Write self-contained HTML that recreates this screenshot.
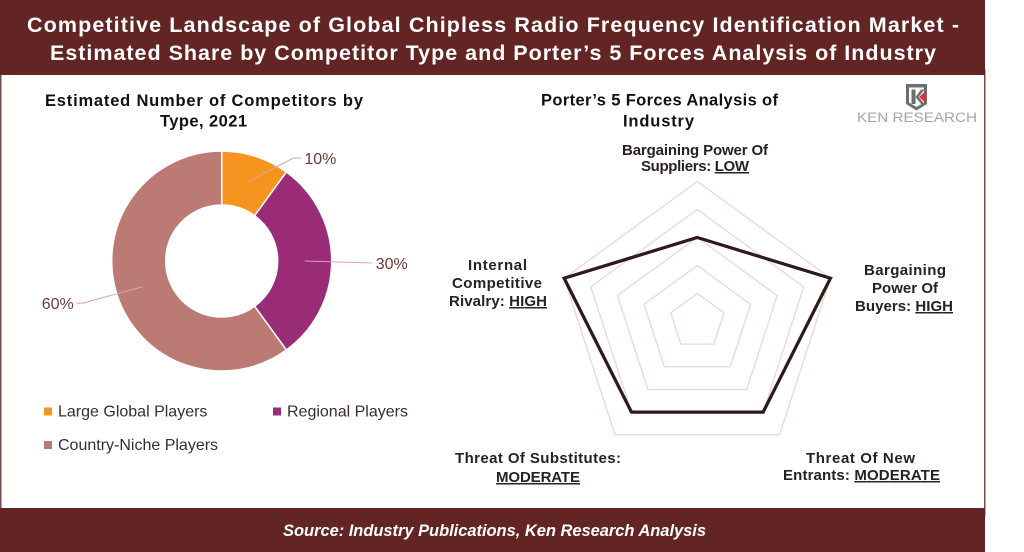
<!DOCTYPE html>
<html lang="en">
<head>
<meta charset="utf-8">
<title>Competitive Landscape of Global Chipless RFID Market</title>
<style>
html,body{margin:0;padding:0;background:#fff;width:1024px;height:552px;overflow:hidden}
svg{display:block;font-family:"Liberation Sans",Arial,sans-serif}
.h{font-weight:700;font-size:21.5px;fill:#fff}
.t{font-weight:700;font-size:16.5px;fill:#111}
.a{font-weight:700;font-size:15px;fill:#2b2020}
.l{font-size:16px;fill:#3a2c2c}
.p{font-size:16px;fill:#6b3a36}
</style>
</head>
<body>
<svg id="page" width="1024" height="552" viewBox="0 0 1024 552">
  <rect x="0.75" y="70" width="984" height="445" fill="#fff" stroke="#7a4a49" stroke-width="1.5"/>
  <rect x="0" y="0" width="985" height="75" fill="#622524"/>
  <text class="h" x="27" y="32" textLength="932">Competitive Landscape of Global Chipless Radio Frequency Identification Market -</text>
  <text class="h" x="50" y="60" textLength="886">Estimated Share by Competitor Type and Porter’s 5 Forces Analysis of Industry</text>

  <g>
    <text class="t" x="45" y="106" textLength="318">Estimated Number of Competitors by</text>
    <text class="t" x="160" y="126.5" textLength="87">Type, 2021</text>
  </g>
  <g>
    <text class="t" x="541" y="105.5" textLength="237">Porter’s 5 Forces Analysis of</text>
    <text class="t" x="623" y="126.5" textLength="71">Industry</text>
  </g>

  <g>
    <path d="M906 84H927V104L916.5 110.5L906 104Z" fill="#6d6e70"/>
    <path d="M909 87.5H924V102.5L916.5 107L909 102.5Z" fill="#fff"/>
    <path d="M911.5 89.5H915.5V104H911.5Z" fill="#6d6e70"/>
    <path d="M915.5 97L921 89.5H924.5L918.5 97L924.5 104H921Z" fill="#6d6e70"/>
    <path d="M919 97L926 90.5V103.5Z" fill="#d9333f"/>
    <text x="857" y="122" font-size="13.5" fill="#a5a5a7" textLength="120" lengthAdjust="spacingAndGlyphs">KEN RESEARCH</text>
  </g>

  <g id="donut"></g>
  <g id="legend"></g>
  <g id="radar"></g>

  <g>
    <text class="a" x="622" y="155" textLength="146">Bargaining Power Of</text>
    <text class="a" x="641" y="171" textLength="108">Suppliers: <tspan text-decoration="underline">LOW</tspan></text>
  </g>
  <g>
    <text class="a" x="864" y="275" textLength="82">Bargaining</text>
    <text class="a" x="872" y="293" textLength="66">Power Of</text>
    <text class="a" x="855" y="311" textLength="98">Buyers: <tspan text-decoration="underline">HIGH</tspan></text>
  </g>
  <g>
    <text class="a" x="806" y="463" textLength="109">Threat Of New</text>
    <text class="a" x="783" y="480" textLength="157">Entrants: <tspan text-decoration="underline">MODERATE</tspan></text>
  </g>
  <g>
    <text class="a" x="455" y="463" textLength="166">Threat Of Substitutes:</text>
    <text class="a" x="496" y="482" textLength="84" text-decoration="underline">MODERATE</text>
  </g>
  <g>
    <text class="a" x="468" y="270" textLength="59">Internal</text>
    <text class="a" x="452" y="288" textLength="90">Competitive</text>
    <text class="a" x="449" y="306" textLength="98">Rivalry: <tspan text-decoration="underline">HIGH</tspan></text>
  </g>

  <rect x="0" y="508" width="985" height="44" fill="#622524"/>
  <text x="283" y="536" font-size="16.5" font-weight="700" font-style="italic" fill="#fff" textLength="423">Source: Industry Publications, Ken Research Analysis</text>
</svg>
<script>
var donutCategories = ['Large Global Players', 'Regional Players', 'Country-Niche Players'];
var donutValues = [10, 30, 60];
var radarAxes = ['Bargaining Power Of Suppliers', 'Bargaining Power Of Buyers', 'Threat Of New Entrants', 'Threat Of Substitutes', 'Internal Competitive Rivalry'];
var radarValues = [3, 5, 4, 4, 5];
var radarTicks = [1, 2, 3, 4, 5];

var NS = 'http://www.w3.org/2000/svg';
function mk(parent, tag, attrs) {
  var el = document.createElementNS(NS, tag);
  for (var k in attrs) el.setAttribute(k, attrs[k]);
  parent.appendChild(el);
  return el;
}

/* donut */
var sliceColors = ['#F7941F', '#9A2B76', '#BC7A74'];
var cx = 221.7, cy = 261, rOuter = 110, rInner = 56, rAnchor = 83;
var leaderElbows = [[46, -24], [67, 2], [-60, 16.5]];
var leaderTails = [8, 0, -6];
var labelGaps = [3, 4, -3];
var total = donutValues.reduce(function (a, b) { return a + b; }, 0);
function polar(r, deg) {
  var a = deg * Math.PI / 180;
  return [cx + r * Math.sin(a), cy - r * Math.cos(a)];
}
var donutG = document.getElementById('donut');
var start = 0;
donutValues.forEach(function (v, i) {
  var sweep = v / total * 360, end = start + sweep, large = sweep > 180 ? 1 : 0;
  var a = polar(rOuter, start), b = polar(rOuter, end), c = polar(rInner, end), d = polar(rInner, start);
  var slice = mk(donutG, 'path', {
    d: 'M' + a + 'A' + rOuter + ' ' + rOuter + ' 0 ' + large + ' 1 ' + b + 'L' + c + 'A' + rInner + ' ' + rInner + ' 0 ' + large + ' 0 ' + d + 'Z',
    fill: sliceColors[i], stroke: '#fff', 'stroke-width': 1.5
  });
  
  
  start = end;
});
start = 0;
donutValues.forEach(function (v, i) {
  var sweep = v / total * 360, mid = start + sweep / 2;
  var p = polar(rAnchor, mid);
  var e = [p[0] + leaderElbows[i][0], p[1] + leaderElbows[i][1]];
  var t = [e[0] + leaderTails[i], e[1]];
  var line = mk(donutG, 'polyline', {
    points: p + ' ' + e + ' ' + t, fill: 'none', stroke: '#D9A6A1', 'stroke-width': 1
  });
  
  
  var lab = mk(donutG, 'text', {
    x: t[0] + labelGaps[i], y: t[1] + 6, 'class': 'p',
    'text-anchor': labelGaps[i] < 0 ? 'end' : 'start'
  });
  lab.textContent = v + '%';
  
  
  start += sweep;
});

/* legend */
var legendG = document.getElementById('legend');
donutCategories.forEach(function (name, i) {
  var col = i % 2, row = Math.floor(i / 2);
  var x = 44 + col * 229, y = 407.5 + row * 33.5;
  var sw = mk(legendG, 'rect', { x: x, y: y, width: 8, height: 8, fill: sliceColors[i] });
  
  
  var tx = mk(legendG, 'text', { x: x + 14, y: y + 9, 'class': 'l' });
  tx.textContent = name;
  
  
});

/* radar */
var rcx = 697.3, rcy = 321.5, rMax = 140;
var tickMax = radarTicks[radarTicks.length - 1];
function radarPoint(i, value) {
  var a = 2 * Math.PI * i / radarAxes.length, r = value / tickMax * rMax;
  return (rcx + r * Math.sin(a)).toFixed(2) + ',' + (rcy - r * Math.cos(a)).toFixed(2);
}
var radarG = document.getElementById('radar');
radarTicks.forEach(function (t) {
  var pts = radarAxes.map(function (_, i) { return radarPoint(i, t); }).join(' ');
  var ring = mk(radarG, 'polygon', { points: pts, fill: 'none', stroke: '#EBD5D1', 'stroke-width': 1.25 });
  
  
});
var series = mk(radarG, 'polygon', {
  points: radarValues.map(function (v, i) { return radarPoint(i, v); }).join(' '),
  fill: 'none', stroke: '#2E1A1A', 'stroke-width': 3.25, 'stroke-linejoin': 'miter'
});


</script>
</body>
</html>
